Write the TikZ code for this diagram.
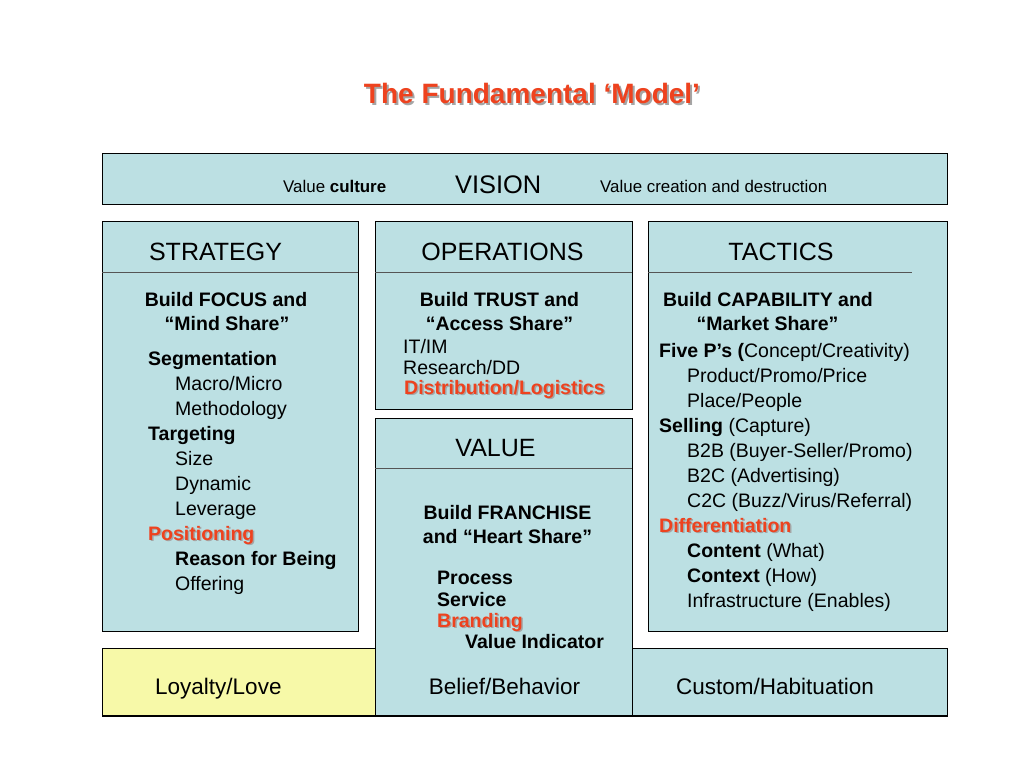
\documentclass[tikz,border=0pt]{standalone}
\usepackage{fontspec}
\setmainfont{Liberation Sans}
\definecolor{boxcyan}{RGB}{188,224,227}
\definecolor{boxyellow}{RGB}{247,249,168}
\definecolor{hired}{RGB}{238,66,30}
\definecolor{shade}{RGB}{165,165,165}
\definecolor{rulegray}{RGB}{85,85,85}
\tikzset{
  panel/.style={draw=black, line width=0.9pt, fill=boxcyan},
  ypanel/.style={draw=black, line width=0.9pt, fill=boxyellow},
  hdrline/.style={draw=rulegray, line width=0.9pt},
  body/.style={inner sep=0pt, anchor=base west, font=\fontsize{19.5}{23}\selectfont},
  bodyc/.style={body, anchor=base},
  bb/.style={body, font=\fontsize{19.5}{23}\selectfont\bfseries},
  bbc/.style={bb, anchor=base},
  redt/.style={bb, text=hired},
  redsh/.style={bb, text=shade},
  hdr/.style={inner sep=0pt, anchor=base, font=\fontsize{25}{28}\selectfont},
  small/.style={inner sep=0pt, anchor=base west, font=\fontsize{16.9}{20}\selectfont},
  foot/.style={inner sep=0pt, anchor=base west, font=\fontsize{22.5}{26}\selectfont},
}
\begin{document}
\begin{tikzpicture}[x=1pt,y=-1pt]
\useasboundingbox (0,0) rectangle (1024,768);
\fill[white] (0,0) rectangle (1024,768);

% title
\node[inner sep=0pt, anchor=base, font=\fontsize{28}{32}\selectfont\bfseries, text=shade] (titlesh) at (534,105) {The Fundamental ‘Model’};
\node[inner sep=0pt, anchor=base, font=\fontsize{28}{32}\selectfont\bfseries, text=hired] (title) at (532,103) {The Fundamental ‘Model’};

% panels
\draw[panel] (102,153) rectangle (947,204);
\draw[panel] (102,221) rectangle (358,631);
\draw[panel] (375,221) rectangle (632,409);
\draw[panel] (648,221) rectangle (947,631);
\draw[ypanel] (102,648) rectangle (375,716);
\draw[panel] (375,648) rectangle (947,716);
\draw[panel] (375,418) rectangle (632,716);
\draw[line width=1.4pt] (102,716) -- (947,716);

% header rules
\draw[hdrline] (102,272) -- (358,272);
\draw[hdrline] (375,272) -- (632,272);
\draw[hdrline] (648,272) -- (912,272);
\draw[hdrline] (375,468) -- (632,468);

% vision row
\node[small] (vc) at (283,192) {Value \textbf{culture}};
\node[inner sep=0pt, anchor=base west, font=\fontsize{25.4}{28}\selectfont] (vision) at (455,193) {VISION};
\node[small] (vcd) at (600,192) {Value creation and destruction};

% headers
\node[hdr] (hs) at (215.5,260) {STRATEGY};
\node[hdr] (ho) at (502.5,260) {OPERATIONS};
\node[hdr] (ht) at (781,260) {TACTICS};
\node[hdr] (hv) at (495.5,456) {VALUE};

% strategy
\node[bbc] (s1) at (226,306) {Build FOCUS and};
\node[bbc] (s2) at (227,330) {“Mind Share”};
\node[bb] (s3) at (148,365) {Segmentation};
\node[body] (s4) at (175,390) {Macro/Micro};
\node[body] (s5) at (175,415) {Methodology};
\node[bb] (s6) at (148,440) {Targeting};
\node[body] (s7) at (175,465) {Size};
\node[body] (s8) at (175,490) {Dynamic};
\node[body] (s9) at (175,515) {Leverage};
\node[redsh] (s10sh) at (149.5,541.5) {Positioning};
\node[redt] (s10) at (148,540) {Positioning};
\node[bb] (s11) at (175,565) {Reason for Being};
\node[body] (s12) at (175,590) {Offering};

% operations
\node[bbc] (o1) at (499.5,306) {Build TRUST and};
\node[bbc] (o2) at (499.5,330) {“Access Share”};
\node[body] (o3) at (403,353) {IT/IM};
\node[body] (o4) at (403,374) {Research/DD};
\node[redsh] (o5sh) at (405.5,395.5) {Distribution/Logistics};
\node[redt] (o5) at (404,394) {Distribution/Logistics};

% tactics
\node[bbc] (t1) at (768,306) {Build CAPABILITY and};
\node[bbc] (t2) at (767.5,330) {“Market Share”};
\node[body] (t3) at (659,357) {\textbf{Five P’s (}Concept/Creativity)};
\node[body] (t4) at (687,382) {Product/Promo/Price};
\node[body] (t5) at (687,407) {Place/People};
\node[body] (t6) at (659,432) {\textbf{Selling} (Capture)};
\node[body] (t7) at (687,457) {B2B (Buyer-Seller/Promo)};
\node[body] (t8) at (687,482) {B2C (Advertising)};
\node[body] (t9) at (687,507) {C2C (Buzz/Virus/Referral)};
\node[redsh] (t10sh) at (660.5,533.5) {Differentiation};
\node[redt] (t10) at (659,532) {Differentiation};
\node[body] (t11) at (687,557) {\textbf{Content} (What)};
\node[body] (t12) at (687,582) {\textbf{Context} (How)};
\node[body] (t13) at (687,607) {Infrastructure (Enables)};

% value
\node[bbc] (v1) at (507.5,519) {Build FRANCHISE};
\node[bbc] (v2) at (507.5,543) {and “Heart Share”};
\node[bb] (v3) at (437,584) {Process};
\node[bb] (v4) at (437,606) {Service};
\node[redsh] (v5sh) at (438.5,628.5) {Branding};
\node[redt] (v5) at (437,627) {Branding};
\node[bb] (v6) at (465,648) {Value Indicator};

% bottom row
\node[foot] (f1) at (155,694) {Loyalty/Love};
\node[foot, anchor=base] (f2) at (504.5,694) {Belief/Behavior};
\node[foot] (f3) at (676,694) {Custom/Habituation};
\end{tikzpicture}
\end{document}
